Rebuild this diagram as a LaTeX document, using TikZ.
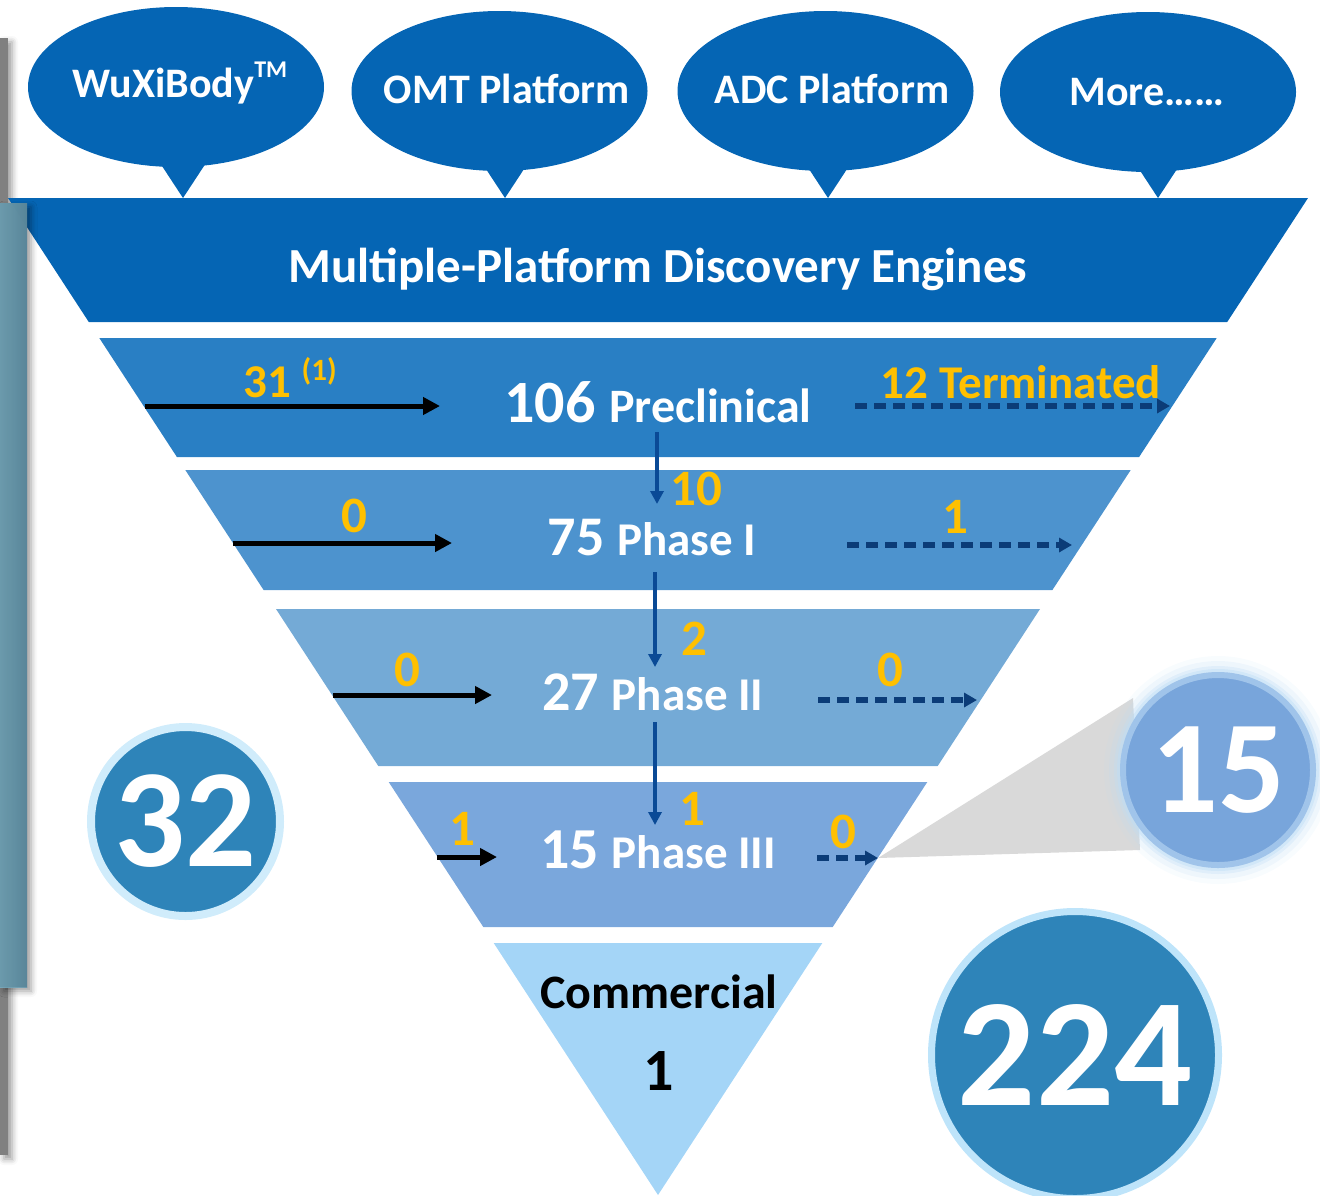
\documentclass[tikz,border=0pt]{standalone}
\usepackage{fontspec}
\setmainfont{Carlito}
\usetikzlibrary{arrows.meta,shadows.blur}
\definecolor{topblue}{HTML}{0565B4}
\definecolor{bandA}{HTML}{297FC4}
\definecolor{bandB}{HTML}{4D93CE}
\definecolor{bandC}{HTML}{74AAD6}
\definecolor{bandD}{HTML}{7AA7DC}
\definecolor{bandE}{HTML}{A4D5F7}
\definecolor{numyellow}{HTML}{FFC000}
\definecolor{navy}{HTML}{0B3C78}
\definecolor{vblue}{HTML}{0A4A96}
\definecolor{circfill}{HTML}{2E84B9}
\definecolor{ringA}{HTML}{D0ECFB}
\definecolor{ringB}{HTML}{BEE4FA}
\definecolor{cfifteen}{HTML}{78A5DB}
\definecolor{rfifteen}{HTML}{A0C4EA}
\definecolor{glowblue}{HTML}{BFDDF5}
\definecolor{wedgegray}{HTML}{D9D9D9}
\definecolor{barg}{HTML}{808080}
\definecolor{tealL}{HTML}{78AEC2}
\definecolor{tealR}{HTML}{6496AC}
\newcommand\myfs[1]{\fontsize{#1}{#1}\selectfont}
\begin{document}
\begin{tikzpicture}[x=0.5pt,y=-0.5pt,
  wlbl/.style={font=\bfseries, text=white, inner sep=0pt, anchor=base},
  ylbl/.style={font=\bfseries\myfs{25.5}, text=numyellow, inner sep=0pt, anchor=base},
  blackarr/.style={draw=black, line width=2.5pt, -{Triangle[length=8.5pt,width=8.5pt]}},
  dasharr/.style={draw=navy, line width=2.6pt, dash pattern=on 6pt off 3.5pt, -{Triangle[length=6.5pt,width=7pt]}},
  vertarr/.style={draw=vblue, line width=1.9pt, -{Triangle[length=6.5pt,width=6.5pt]}},
  bubble/.style={fill=topblue},
  numcirc/.style={circle, inner sep=0pt, text=white, font=\bfseries},
]
\useasboundingbox (0,0) rectangle (1320,1195);

% left decoration (gray bar)
\fill[barg, blur shadow={shadow xshift=2pt, shadow yshift=-2pt, shadow blur radius=3pt}] (0,38) rectangle (8,1155);

% bubbles
\foreach \cx/\cy/\tx in {176/87/183, 499.5/91/505, 825.5/91/828, 1148/92/1158}{
  \fill[bubble] (\cx,\cy) ellipse [x radius=74pt, y radius=40pt];
  \fill[bubble] (\tx-31.5,150) -- (\tx,198) -- (\tx+31.5,150) -- cycle;
}
\node[wlbl, font=\bfseries\myfs{21}] (b1) at (180,97) {WuXiBody\raisebox{10pt}{\myfs{12}TM}};
\node[wlbl, font=\bfseries\myfs{21}] (b2) at (507,103) {OMT Platform};
\node[wlbl, font=\bfseries\myfs{21}] (b3) at (832,103) {ADC Platform};
\node[wlbl, font=\bfseries\myfs{21}] (b4) at (1147,105) {More……};

% funnel bands
\fill[topblue] (8,198) -- (1308,198) -- (1227.2,322) -- (88.8,322) -- cycle;
\fill[bandA] (99.3,338) -- (1216.7,338) -- (1139.1,457) -- (176.9,457) -- cycle;
\fill[bandB] (185.3,470) -- (1130.7,470) -- (1052.4,590) -- (263.6,590) -- cycle;
\fill[bandC] (276,609) -- (1040,609) -- (937.7,766) -- (378.3,766) -- cycle;
\fill[bandD] (388.7,782) -- (927.3,782) -- (832.7,927) -- (483.3,927) -- cycle;
\fill[bandE] (493.7,943) -- (822.3,943) -- (658,1195) -- cycle;

% teal panel
\fill[left color=tealL, right color=tealR, opacity=0.88, blur shadow={shadow xshift=2pt, shadow yshift=-2pt, shadow blur radius=3pt}] (0,203) rectangle (27,987);

\node[wlbl, font=\bfseries\myfs{24.5}] (title) at (658,282) {Multiple-Platform Discovery Engines};

% stage labels
\node[wlbl] (pre) at (658,422) {\myfs{30}106 \myfs{24}Preclinical};
\node[wlbl] (p1) at (652,555) {\myfs{28}75 \myfs{23.5}Phase I};
\node[wlbl] (p2) at (653,710) {\myfs{28}27 \myfs{23.5}Phase II};
\node[wlbl] (p3) at (658,868) {\myfs{29}15 \myfs{23.5}Phase III};
\node[wlbl, text=black, font=\bfseries\myfs{24}] (com) at (659,1008) {Commercial};
\node[wlbl, text=black, font=\bfseries\myfs{30}] (comn) at (659,1090) {1};

% coordinates for arrows
\coordinate (a1s) at (145,406); \coordinate (a1e) at (440,406);
\coordinate (a2s) at (233,543); \coordinate (a2e) at (452,543);
\coordinate (a3s) at (333,695); \coordinate (a3e) at (492,695);
\coordinate (a4s) at (437,857); \coordinate (a4e) at (497,857);
\coordinate (d1s) at (855,406); \coordinate (d1e) at (1170,406);
\coordinate (d2s) at (847,545); \coordinate (d2e) at (1072,545);
\coordinate (d3s) at (818,700); \coordinate (d3e) at (977,700);
\coordinate (d4s) at (817,858); \coordinate (d4e) at (878,858);
\coordinate (v1s) at (657,432); \coordinate (v1e) at (657,504);
\coordinate (v2s) at (655,572); \coordinate (v2e) at (655,667);
\coordinate (v3s) at (655,722); \coordinate (v3e) at (655,825);

\draw[blackarr] (a1s) -- (a1e);
\draw[blackarr] (a2s) -- (a2e);
\draw[blackarr] (a3s) -- (a3e);
\draw[blackarr] (a4s) -- (a4e);
\draw[dasharr] (d1s) -- (d1e);
\draw[dasharr] (d2s) -- (d2e);
\draw[dasharr] (d3s) -- (d3e);
\draw[dasharr] (d4s) -- (d4e);
\draw[vertarr] (v1s) -- (v1e);
\draw[vertarr] (v2s) -- (v2e);
\draw[vertarr] (v3s) -- (v3e);

% yellow numbers
\node[ylbl, font=\bfseries\myfs{23.5}] (n31) at (290,397) {31 \raisebox{8.5pt}{\myfs{15.5}(1)}};
\node[ylbl, font=\bfseries\myfs{23.5}] (nterm) at (1021,398) {12 Terminated};
\node[ylbl] (n10) at (696,505) {10};
\node[ylbl] (n2l) at (354,532) {0};
\node[ylbl] (n2r) at (955,533) {1};
\node[ylbl] (n2v) at (694,655) {2};
\node[ylbl] (n3l) at (407,686) {0};
\node[ylbl] (n3r) at (890,686) {0};
\node[ylbl] (n3v) at (692,825) {1};
\node[ylbl] (n4l) at (462,845) {1};
\node[ylbl] (n4r) at (843,848) {0};

% callout wedge and circle 15
\coordinate (w1) at (1133,698);
\coordinate (w2) at (1140,850);
\fill[wedgegray] (d4e) -- (w1) -- (w2) -- cycle;
\coordinate (c15c) at (1218,770);
\foreach \r/\o in {114/0.10,109/0.18,104/0.30,101/0.45}{
  \fill[glowblue, opacity=\o] (c15c) circle [radius=\r*0.5pt];
}
\node[numcirc, fill=cfifteen, draw=rfifteen, line width=3pt, minimum size=95pt, font=\bfseries\myfs{66}] (c15) at (c15c) {15};

% circles 32 and 224
\node[numcirc, fill=circfill, draw=ringA, line width=4pt, minimum size=94.5pt, font=\bfseries\myfs{70}] (c32) at (185.5,821.5) {32};
\node[numcirc, fill=circfill, draw=ringB, line width=3.5pt, minimum size=143.5pt, font=\bfseries\myfs{77}] (c224) at (1075,1055) {224};
\end{tikzpicture}
\end{document}
